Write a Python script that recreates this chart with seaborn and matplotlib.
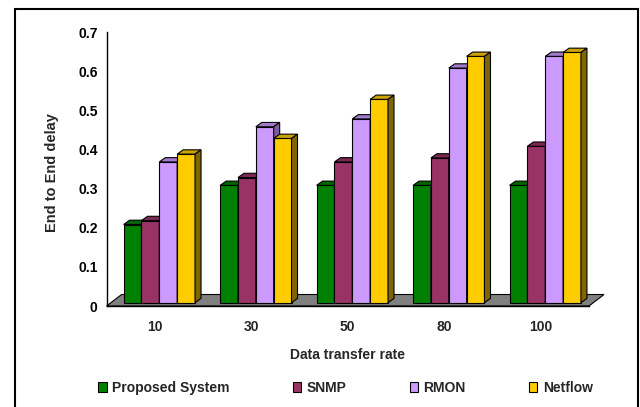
import numpy as np
import pandas as pd
import matplotlib
matplotlib.use("Agg")
import matplotlib.pyplot as plt
import seaborn as sns
from matplotlib.patches import Polygon, Rectangle
from matplotlib.transforms import IdentityTransform, ScaledTranslation

# Data
rates = ["10", "30", "50", "80", "100"]
systems = ["Proposed System", "SNMP", "RMON", "Netflow"]
proposed = [0.20, 0.30, 0.30, 0.30, 0.30]
snmp = [0.21, 0.32, 0.36, 0.37, 0.40]
rmon = [0.36, 0.45, 0.47, 0.60, 0.63]
netflow = [0.38, 0.42, 0.52, 0.63, 0.64]
yticks = [0, 0.1, 0.2, 0.3, 0.4, 0.5, 0.6, 0.7]

front_colors = ["#008000", "#993366", "#CC99FF", "#FFCC00"]
top_colors = ["#006600", "#7A2952", "#A37ACC", "#CCA300"]
side_colors = ["#004D00", "#5C1F3D", "#7A5C99", "#806600"]

df = pd.DataFrame({
    "rate": rates * 4,
    "system": sum([[s] * len(rates) for s in systems], []),
    "delay": proposed + snmp + rmon + netflow,
})

sns.set_style("white")
plt.rcParams["font.family"] = ["Liberation Sans", "DejaVu Sans"]
plt.rcParams["font.weight"] = "bold"
FS = 10

fig = plt.figure(figsize=(6.4, 4.07), dpi=100)
W, H = 640, 407
ax_l, ax_r, ax_t, ax_b = 106.6, 589.0, 32.3, 306.0
ax = fig.add_axes([ax_l / W, 1 - ax_b / H, (ax_r - ax_l) / W, (ax_b - ax_t) / H])

sns.barplot(data=df, x="rate", y="delay", hue="system", hue_order=systems,
            palette=front_colors, width=0.74, saturation=1, edgecolor="black",
            linewidth=0.8, legend=False, ax=ax)
ax.set_xlim(-0.5, 4.5)
ax.set_ylim(0, 0.7)

# pseudo-3D geometry, in pixels
SHIFT = (4.5, 3.3)    # bars sit in the middle of the floor
DEPTH = (6.0, 4.3)    # bar depth
FLOOR = (15.0, 11.5)  # floor depth

# floor
x0d, y0d = ax.transData.transform((-0.5, 0))
x1d, _ = ax.transData.transform((4.5, 0))
floor = Polygon([(x0d, y0d), (x1d, y0d), (x1d + FLOOR[0], y0d + FLOOR[1]),
                 (x0d + FLOOR[0], y0d + FLOOR[1])], closed=True,
                transform=IdentityTransform(), facecolor="#808080",
                edgecolor="black", linewidth=0.8, zorder=2, clip_on=False)
ax.add_patch(floor)

shift_tr = ax.transData + ScaledTranslation(SHIFT[0] / 100, SHIFT[1] / 100,
                                            fig.dpi_scale_trans)
for k, cont in enumerate(ax.containers):
    for bar in cont:
        bar.set_transform(shift_tr)
        bar.set_zorder(3 + 3 * k)
        bar.set_clip_on(False)
        bx0, by0 = ax.transData.transform((bar.get_x(), 0))
        bx1, by1 = ax.transData.transform((bar.get_x() + bar.get_width(), bar.get_height()))
        bx0 += SHIFT[0]; bx1 += SHIFT[0]; by0 += SHIFT[1]; by1 += SHIFT[1]
        dx, dy = DEPTH
        top = Polygon([(bx0, by1), (bx1, by1), (bx1 + dx, by1 + dy), (bx0 + dx, by1 + dy)],
                      closed=True, transform=IdentityTransform(),
                      facecolor=top_colors[k], edgecolor="black", linewidth=0.8,
                      zorder=4 + 3 * k, clip_on=False)
        side = Polygon([(bx1, by0), (bx1, by1), (bx1 + dx, by1 + dy), (bx1 + dx, by0 + dy)],
                       closed=True, transform=IdentityTransform(),
                       facecolor=side_colors[k], edgecolor="black", linewidth=0.8,
                       zorder=5 + 3 * k, clip_on=False)
        ax.add_patch(top)
        ax.add_patch(side)

# axes styling
for s in ["top", "right"]:
    ax.spines[s].set_visible(False)
for s in ["left", "bottom"]:
    ax.spines[s].set_color("black")
    ax.spines[s].set_linewidth(1.0)
    ax.spines[s].set_zorder(2.5)

ax.set_yticks(yticks)
ax.set_yticklabels([f"{v:g}" for v in yticks])
ax.tick_params(axis="y", direction="out", length=3.5, width=1, pad=3,
               labelsize=FS, colors="black")
ax.set_xticks(range(len(rates)))
ax.set_xticklabels(rates)
ax.set_xticks(np.arange(-0.5, len(rates), 1), minor=True)
ax.tick_params(axis="x", which="major", length=0, pad=10, labelsize=FS)
ax.tick_params(axis="x", which="minor", direction="out", length=4, width=1)
for lab in ax.get_xticklabels() + ax.get_yticklabels():
    lab.set_fontweight("bold")

ax.set_xlabel("Data transfer rate", fontsize=FS, fontweight="bold")
ax.set_ylabel("End to End delay", fontsize=10.5, fontweight="bold")
ax.xaxis.set_label_coords(0.5, -0.152)
ax.yaxis.set_label_coords(-0.099, 0.486)

handles = [Rectangle((0, 0), 1, 1, facecolor=c, edgecolor="black", linewidth=0.8)
           for c in front_colors]
fig.legend(handles, systems, loc="center", bbox_to_anchor=(345.5 / W, 1 - 387.7 / H),
           ncol=4, frameon=False, prop={"weight": "bold", "size": FS},
           handlelength=0.6, handleheight=0.75, handletextpad=0.4, columnspacing=4.55)

# outer chart frame
fig.add_artist(Rectangle((15 / W, -0.05), (638 - 15) / W, 1.05 - 9 / H,
                         transform=fig.transFigure, fill=False, edgecolor="black",
                         linewidth=1.5))

fig.savefig("out.png", dpi=100)
